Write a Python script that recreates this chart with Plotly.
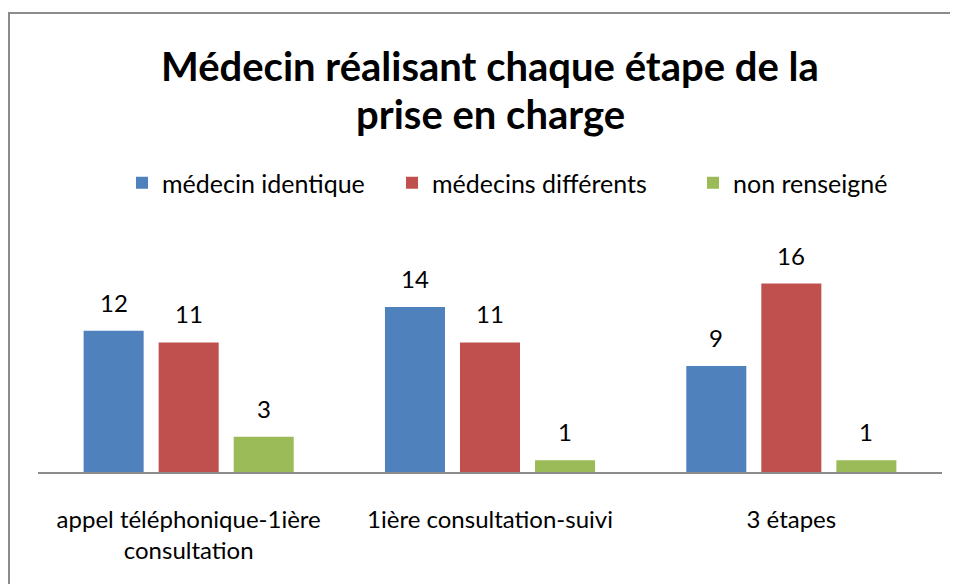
import plotly.graph_objects as go

categories = ["appel téléphonique-1ière<br>consultation", "1ière consultation-suivi", "3 étapes"]
series_names = ["médecin identique", "médecins différents", "non renseigné"]
identique = [12, 14, 9]
differents = [11, 11, 16]
non_renseigne = [3, 1, 1]
title_lines = ["Médecin réalisant chaque étape de la", "prise en charge"]
colors = ["#4F81BD", "#C0504D", "#9BBB59"]

FONT = "Lato"
W, H = 950, 576
ml, mr, mb, mt = 30, 16, 112, 252
pw, ph = W - ml - mr, H - mt - mb


def px(x):
    return (x - ml) / pw


def py(y):
    return (H - mb - y) / ph


legend_ids = ["legend", "legend2", "legend3"]
legend_x = [114, 384, 685]

fig = go.Figure()
annotations = []
for i, (name, vals, col) in enumerate(zip(series_names, [identique, differents, non_renseigne], colors)):
    fig.add_trace(go.Bar(
        x=categories, y=vals, name=name, marker=dict(color=col, line=dict(width=0)),
        legend=legend_ids[i], showlegend=True,
    ))
    for c, v in zip(categories, vals):
        annotations.append(dict(x=c, y=v, xref="x", yref="y", text=str(v), showarrow=False,
                                xshift=(i - 1) * 75, yshift=12, yanchor="bottom",
                                font=dict(family=FONT, size=24, color="black")))

for line, yc in zip(title_lines, [58, 106]):
    annotations.append(dict(x=px(482), y=py(yc), xref="paper", yref="paper", text=f"<b>{line}</b>",
                            showarrow=False, xanchor="center", yanchor="middle",
                            font=dict(family=FONT, size=40, color="black")))

legends = {}
for lid, lx in zip(legend_ids, legend_x):
    legends[lid] = dict(orientation="h", x=px(lx), xanchor="left", y=py(175), yanchor="middle",
                        font=dict(family=FONT, size=25, color="black"), itemwidth=30,
                        bgcolor="rgba(0,0,0,0)")

fig.update_layout(
    width=W, height=H,
    showlegend=True,
    margin=dict(l=ml, r=mr, t=mt, b=mb, autoexpand=False),
    paper_bgcolor="white", plot_bgcolor="white",
    barmode="group", bargap=0.253, bargroupgap=0.2,
    xaxis=dict(showline=True, linecolor="#8C8C8C", linewidth=2, ticks="",
               tickfont=dict(family=FONT, size=24, color="black"), ticklabelstandoff=25,
               showgrid=False),
    yaxis=dict(range=[0, 18], visible=False, showgrid=False),
    annotations=annotations,
    shapes=[dict(type="rect", xref="paper", yref="paper",
                 x0=px(1), x1=px(970), y0=py(600), y1=py(5),
                 line=dict(color="#8C8C8C", width=2), fillcolor="rgba(0,0,0,0)", layer="below")],
    **legends,
)
fig.write_html("out.html")
